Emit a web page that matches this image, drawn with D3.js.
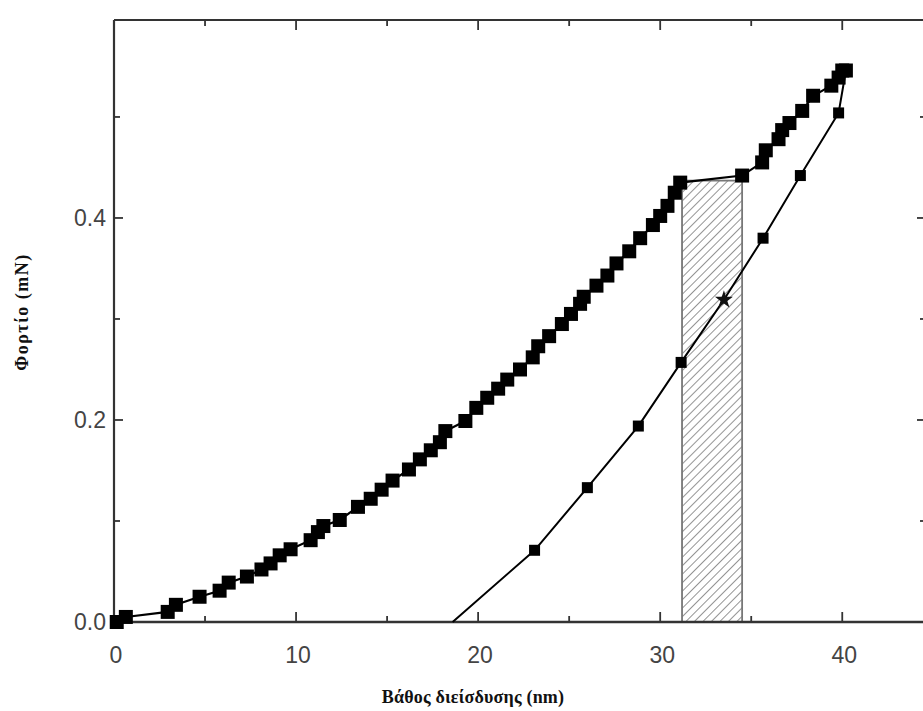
<!DOCTYPE html>
<html>
<head>
<meta charset="utf-8">
<script src="https://cdn.jsdelivr.net/npm/d3@7"></script>
<style>
  html, body { margin: 0; padding: 0; background: #fff; }
  svg { display: block; }
</style>
</head>
<body>
<svg id="chart" width="923" height="711"></svg>
<script>
// ---- Data ----
const loadingDepth = [0.15, 0.65, 2.95, 3.4, 4.7, 5.8, 6.3, 7.3, 8.1, 8.6, 9.1, 9.7, 10.8, 11.2, 11.5,
  12.4, 13.4, 14.1, 14.7, 15.3, 16.2, 16.8, 17.4, 17.9, 18.2, 19.3, 19.9, 20.5, 21.1, 21.6,
  22.3, 23.0, 23.3, 23.9, 24.6, 25.1, 25.6, 25.8, 26.5, 27.1, 27.6, 28.3, 28.9, 29.6, 30.0,
  30.4, 30.8, 31.1, 34.5, 35.6, 35.8, 36.5, 36.7, 37.1, 37.8, 38.4, 39.4, 39.8, 40.0, 40.2];
const loadingForce = [0.000, 0.005, 0.010, 0.017, 0.025, 0.031, 0.039, 0.045, 0.052, 0.058, 0.066, 0.072, 0.081, 0.089, 0.095,
  0.101, 0.114, 0.122, 0.131, 0.140, 0.151, 0.161, 0.170, 0.178, 0.189, 0.199, 0.212, 0.222, 0.231, 0.240,
  0.250, 0.262, 0.273, 0.283, 0.295, 0.305, 0.315, 0.322, 0.333, 0.343, 0.355, 0.367, 0.380, 0.393, 0.402,
  0.412, 0.425, 0.435, 0.442, 0.455, 0.467, 0.478, 0.487, 0.494, 0.506, 0.521, 0.531, 0.539, 0.546, 0.546];

const unloadingDepth = [40.2, 39.8, 37.7, 35.65, 33.5, 31.15, 28.8, 26.0, 23.1, 18.6];
const unloadingForce = [0.546, 0.504, 0.442, 0.380, 0.319, 0.257, 0.194, 0.133, 0.071, 0.000];
// marker type per unloading point: "sq" square, "x" star-like, "none"
const unloadingMarker = ["none", "sq", "sq", "sq", "x", "sq", "sq", "sq", "sq", "none"];

const hatchRegion = { x0: 31.2, x1: 34.5, top: 0.437 };

const xTicksMajor = [0, 10, 20, 30, 40];
const xTicksMinor = [5, 15, 25, 35];
const yTicksMajor = [0.0, 0.2, 0.4];
const yTicksMinor = [0.1, 0.3, 0.5];
const xTickLabels = ["0", "10", "20", "30", "40"];
const yTickLabels = ["0.0", "0.2", "0.4"];

const xTitle = "Βάθος διείσδυσης (nm)";
const yTitle = "Φορτίο (mN)";

// ---- Layout ----
const svg = d3.select("#chart");
const pL = 114, pR = 926, pT = 20, pB = 622;

const x = d3.scaleLinear().domain([0, 44.6]).range([pL, pR]);
const y = d3.scaleLinear().domain([0, 0.596]).range([pB, pT]);

// hatch pattern
const defs = svg.append("defs");
const pat = defs.append("pattern")
  .attr("id", "hatch")
  .attr("patternUnits", "userSpaceOnUse")
  .attr("width", 6).attr("height", 6)
  .attr("patternTransform", "rotate(45)");
pat.append("line")
  .attr("x1", 0).attr("y1", 0).attr("x2", 0).attr("y2", 6)
  .attr("stroke", "#666").attr("stroke-width", 1.4);

// hatched rectangle
svg.append("rect")
  .attr("x", x(hatchRegion.x0))
  .attr("y", y(hatchRegion.top))
  .attr("width", x(hatchRegion.x1) - x(hatchRegion.x0))
  .attr("height", y(0) - y(hatchRegion.top))
  .attr("fill", "url(#hatch)")
  .attr("stroke", "#777")
  .attr("stroke-width", 1.8);

// frame
const frame = svg.append("g").attr("stroke", "#333").attr("fill", "none");
frame.append("line").attr("x1", pL).attr("x2", pR + 5).attr("y1", pT).attr("y2", pT).attr("stroke-width", 2);
frame.append("line").attr("x1", pR).attr("x2", pR).attr("y1", pT).attr("y2", pB).attr("stroke-width", 2);
frame.append("line").attr("x1", pL).attr("x2", pL).attr("y1", pT).attr("y2", pB + 1).attr("stroke-width", 2.2);
frame.append("line").attr("x1", pL - 1).attr("x2", pR + 5).attr("y1", pB).attr("y2", pB).attr("stroke-width", 2.6);

// ticks (inward)
const tk = svg.append("g").attr("stroke", "#333").attr("stroke-width", 1.8);
xTicksMajor.forEach(v => {
  tk.append("line").attr("x1", x(v)).attr("x2", x(v)).attr("y1", pB).attr("y2", pB - 10);
  tk.append("line").attr("x1", x(v)).attr("x2", x(v)).attr("y1", pT).attr("y2", pT + 10);
});
xTicksMinor.forEach(v => {
  tk.append("line").attr("x1", x(v)).attr("x2", x(v)).attr("y1", pB).attr("y2", pB - 6);
  tk.append("line").attr("x1", x(v)).attr("x2", x(v)).attr("y1", pT).attr("y2", pT + 6);
});
yTicksMajor.forEach(v => {
  tk.append("line").attr("x1", pL).attr("x2", pL + 9).attr("y1", y(v)).attr("y2", y(v));
  tk.append("line").attr("x1", pR).attr("x2", pR - 9).attr("y1", y(v)).attr("y2", y(v));
});
yTicksMinor.forEach(v => {
  tk.append("line").attr("x1", pL).attr("x2", pL + 6).attr("y1", y(v)).attr("y2", y(v));
  tk.append("line").attr("x1", pR).attr("x2", pR - 6).attr("y1", y(v)).attr("y2", y(v));
});

// tick labels
const lab = svg.append("g")
  .attr("font-family", "'Liberation Sans', Arial, sans-serif")
  .attr("font-size", 23).attr("fill", "#444");
xTicksMajor.forEach((v, i) => {
  lab.append("text").attr("x", x(v) + 2).attr("y", 663)
    .attr("text-anchor", "middle").text(xTickLabels[i]);
});
yTicksMajor.forEach((v, i) => {
  lab.append("text").attr("x", 106).attr("y", y(v) + 8)
    .attr("text-anchor", "end").text(yTickLabels[i]);
});

// axis titles
svg.append("text")
  .attr("x", 473).attr("y", 703)
  .attr("text-anchor", "middle")
  .attr("font-family", "'Liberation Serif', 'DejaVu Serif', serif")
  .attr("font-weight", "bold").attr("font-size", 18)
  .attr("letter-spacing", 0.2)
  .attr("fill", "#111")
  .text(xTitle);
svg.append("text")
  .attr("transform", "translate(28,312) rotate(-90)")
  .attr("text-anchor", "middle")
  .attr("font-family", "'Liberation Serif', 'DejaVu Serif', serif")
  .attr("font-weight", "bold").attr("font-size", 18)
  .attr("letter-spacing", 1.5)
  .attr("fill", "#111")
  .text(yTitle);

// curves
const line = d3.line().x(d => x(d[0])).y(d => y(d[1]));
const loading = loadingDepth.map((d, i) => [d, loadingForce[i]]);
const unloading = unloadingDepth.map((d, i) => [d, unloadingForce[i], unloadingMarker[i]]);

svg.append("path").datum(unloading).attr("d", line)
  .attr("fill", "none").attr("stroke", "#000").attr("stroke-width", 2);
svg.append("path").datum(loading).attr("d", line)
  .attr("fill", "none").attr("stroke", "#000").attr("stroke-width", 2.2);

// loading markers
const sqL = 14;
svg.append("g").selectAll("rect").data(loading).join("rect")
  .attr("x", d => x(d[0]) - sqL / 2)
  .attr("y", d => y(d[1]) - sqL / 2)
  .attr("width", sqL).attr("height", sqL)
  .attr("fill", "#000");

// unloading markers
const sqU = 11;
svg.append("g").selectAll("rect").data(unloading.filter(d => d[2] === "sq")).join("rect")
  .attr("x", d => x(d[0]) - sqU / 2)
  .attr("y", d => y(d[1]) - sqU / 2)
  .attr("width", sqU).attr("height", sqU)
  .attr("fill", "#000");
svg.append("g").selectAll("path").data(unloading.filter(d => d[2] === "x")).join("path")
  .attr("transform", d => `translate(${x(d[0])},${y(d[1])})`)
  .attr("d", d3.symbol().type(d3.symbolStar).size(100))
  .attr("fill", "#111");
</script>
</body>
</html>
